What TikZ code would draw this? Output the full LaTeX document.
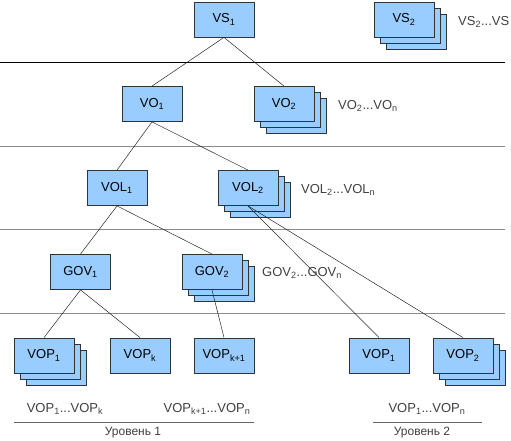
\documentclass[tikz,border=0pt]{standalone}
\usepackage{fontspec}
\setmainfont{Liberation Sans}
\usetikzlibrary{shadows}

\definecolor{boxblue}{HTML}{99CCFF}

\begin{document}
\begin{tikzpicture}[x=1pt,y=-1pt,
  vbox/.style={draw=black!80,line width=0.8pt,fill=boxblue,minimum width=60pt,
    minimum height=35pt,inner sep=0pt,font=\fontsize{13}{15}\selectfont},
  vstack/.style={vbox,double copy shadow={shadow xshift=6pt,shadow yshift=-6pt}},
  rng/.style={anchor=west,inner sep=0pt,text=black!75,font=\fontsize{13}{15}\selectfont},
  lvl/.style={text=black!75,inner sep=0pt,font=\fontsize{12}{14}\selectfont},
  sep/.style={draw=black!45,line width=1pt},
  link/.style={draw=black!85,line width=0.5pt}]
\useasboundingbox (0,0) rectangle (511,441);

% level separators
\draw[line width=0.8pt] (0,62) -- (505,62);
\draw[sep] (0,146) -- (505,146);
\draw[sep] (0,229) -- (505,229);
\draw[sep] (0,313) -- (505,313);

% sessions
\node[vbox] (vs1) at (224,19.5) {VS\textsubscript{1}};
\node[vstack] (vs2) at (404,19.5) {VS\textsubscript{2}};
\node[rng] (vsr) at (458,22) {VS\textsubscript{2}...VS};

% objects
\node[vbox] (vo1) at (152,104) {VO\textsubscript{1}};
\node[vstack] (vo2) at (284,104) {VO\textsubscript{2}};
\node[rng] (vor) at (338,106) {VO\textsubscript{2}...VO\textsubscript{n}};

% layers
\node[vbox] (vol1) at (117,188) {VOL\textsubscript{1}};
\node[vstack] (vol2) at (248,188) {VOL\textsubscript{2}};
\node[rng] (volr) at (301,190) {VOL\textsubscript{2}...VOL\textsubscript{n}};

% groups
\node[vbox] (gov1) at (80.5,272) {GOV\textsubscript{1}};
\node[vstack] (gov2) at (212,272) {GOV\textsubscript{2}};
\node[rng] (govr) at (262,273) {GOV\textsubscript{2}...GOV\textsubscript{n}};

% planes
\node[vstack] (vopa) at (44,355.5) {VOP\textsubscript{1}};
\node[vbox] (vopk) at (140,355.5) {VOP\textsubscript{k}};
\node[vbox] (vopk1) at (224,355.5) {VOP\textsubscript{k+1}};
\node[vbox] (vopb) at (379,355.5) {VOP\textsubscript{1}};
\node[vstack] (vopc) at (463,355.5) {VOP\textsubscript{2}};

% links
\draw[link] (vs1.south) -- (vo1.north);
\draw[link] (vs1.south) -- (vo2.north);
\draw[link] (vo1.south) -- (vol1.north);
\draw[link] (vo1.south) -- (vol2.north);
\draw[link] (vol1.south) -- (gov1.north);
\draw[link] (vol1.south) -- (gov2.north);
\draw[link] (vol2.south) -- (vopb.north);
\draw[link] (vol2.south) -- (vopc.north);
\draw[link] (gov1.south) -- (vopa.north);
\draw[link] (gov1.south) -- (vopk.north);
\draw[link] (gov2.south) -- (vopk1.north);

% scalability levels
\node[rng,anchor=center] (r1a) at (65,409) {VOP\textsubscript{1}...VOP\textsubscript{k}};
\node[rng,anchor=center] (r1b) at (207,409) {VOP\textsubscript{k+1}...VOP\textsubscript{n}};
\draw[draw=black!60,line width=0.7pt] (14,422) -- (254,422);
\node[lvl] (lv1) at (133,432.5) {Уровень 1};

\node[rng,anchor=center] (r2) at (427,409) {VOP\textsubscript{1}...VOP\textsubscript{n}};
\draw[draw=black!60,line width=0.7pt] (373,422) -- (482,422);
\node[lvl] (lv2) at (422,432.5) {Уровень 2};

\end{tikzpicture}
\end{document}
